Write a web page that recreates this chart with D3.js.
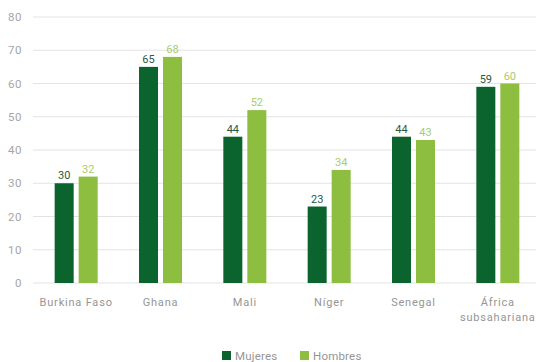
<!DOCTYPE html>
<html>
<head>
<meta charset="utf-8">
<script src="https://cdn.jsdelivr.net/npm/d3@7"></script>
<style>
  body { margin: 0; background: #fff; }
  text { font-family: Roboto, "DejaVu Sans", sans-serif; }
</style>
</head>
<body>
<script>
// Data
var categories = ["Burkina Faso", "Ghana", "Mali", "Níger", "Senegal", "África|subsahariana"];
var mujeres = [30, 65, 44, 23, 44, 59];
var hombres = [32, 68, 52, 34, 43, 60];
var seriesNames = ["Mujeres", "Hombres"];
var yTicks = [0, 10, 20, 30, 40, 50, 60, 70, 80];

var width = 536, height = 362;
var colors = ["#0b632d", "#8dbe3f"];
var labelColors = ["#2c5a40", "#a8cc6e"];

var svg = d3.select("body").append("svg")
    .attr("width", width)
    .attr("height", height);

var x = d3.scaleBand()
    .domain(d3.range(categories.length))
    .range([34, 540]);
var y = d3.scaleLinear()
    .domain([0, 80])
    .range([283, 17]);

var barW = 19, barGap = 5;

// gridlines + y labels
svg.selectAll("line.grid").data(yTicks).enter().append("line")
    .attr("x1", 33).attr("x2", width)
    .attr("y1", function(d) { return y(d); })
    .attr("y2", function(d) { return y(d); })
    .attr("stroke", "#e3e3e3")
    .attr("stroke-width", 1);

svg.selectAll("text.ytick").data(yTicks).enter().append("text")
    .attr("x", 22)
    .attr("y", function(d) { return y(d) + 4; })
    .attr("text-anchor", "end")
    .attr("font-size", "11.5px")
    .attr("letter-spacing", "0.5px")
    .attr("fill", "#a5a5a5")
    .text(function(d) { return d; });

var series = [mujeres, hombres];
series.forEach(function(vals, s) {
    var off = s === 0 ? -barW - barGap / 2 : barGap / 2;
    svg.selectAll("rect.s" + s).data(vals).enter().append("rect")
        .attr("x", function(d, i) { return x(i) + x.bandwidth() / 2 + off; })
        .attr("y", function(d) { return y(d); })
        .attr("width", barW)
        .attr("height", function(d) { return y(0) - y(d); })
        .attr("fill", colors[s]);
    svg.selectAll("text.v" + s).data(vals).enter().append("text")
        .attr("x", function(d, i) { return x(i) + x.bandwidth() / 2 + off + barW / 2; })
        .attr("y", function(d) { return y(d) - 4; })
        .attr("text-anchor", "middle")
        .attr("font-size", "11px")
        .attr("fill", labelColors[s])
        .text(function(d) { return d; });
});

// category labels
categories.forEach(function(c, i) {
    var t = svg.append("text")
        .attr("x", x(i) + x.bandwidth() / 2)
        .attr("y", 306)
        .attr("text-anchor", "middle")
        .attr("font-size", "11px")
        .attr("letter-spacing", "0.8px")
        .attr("fill", "#959595");
    c.split("|").forEach(function(part, k) {
        t.append("tspan")
            .attr("x", x(i) + x.bandwidth() / 2)
            .attr("dy", k === 0 ? 0 : 15)
            .text(part);
    });
});

// legend
var legX = [222, 300];
seriesNames.forEach(function(n, s) {
    svg.append("rect")
        .attr("x", legX[s]).attr("y", 351)
        .attr("width", 9).attr("height", 9)
        .attr("fill", colors[s]);
    svg.append("text")
        .attr("x", legX[s] + 13).attr("y", 360)
        .attr("font-size", "11.5px")
        .attr("letter-spacing", "0.2px")
        .attr("fill", "#959595")
        .text(n);
});
</script>
</body>
</html>
